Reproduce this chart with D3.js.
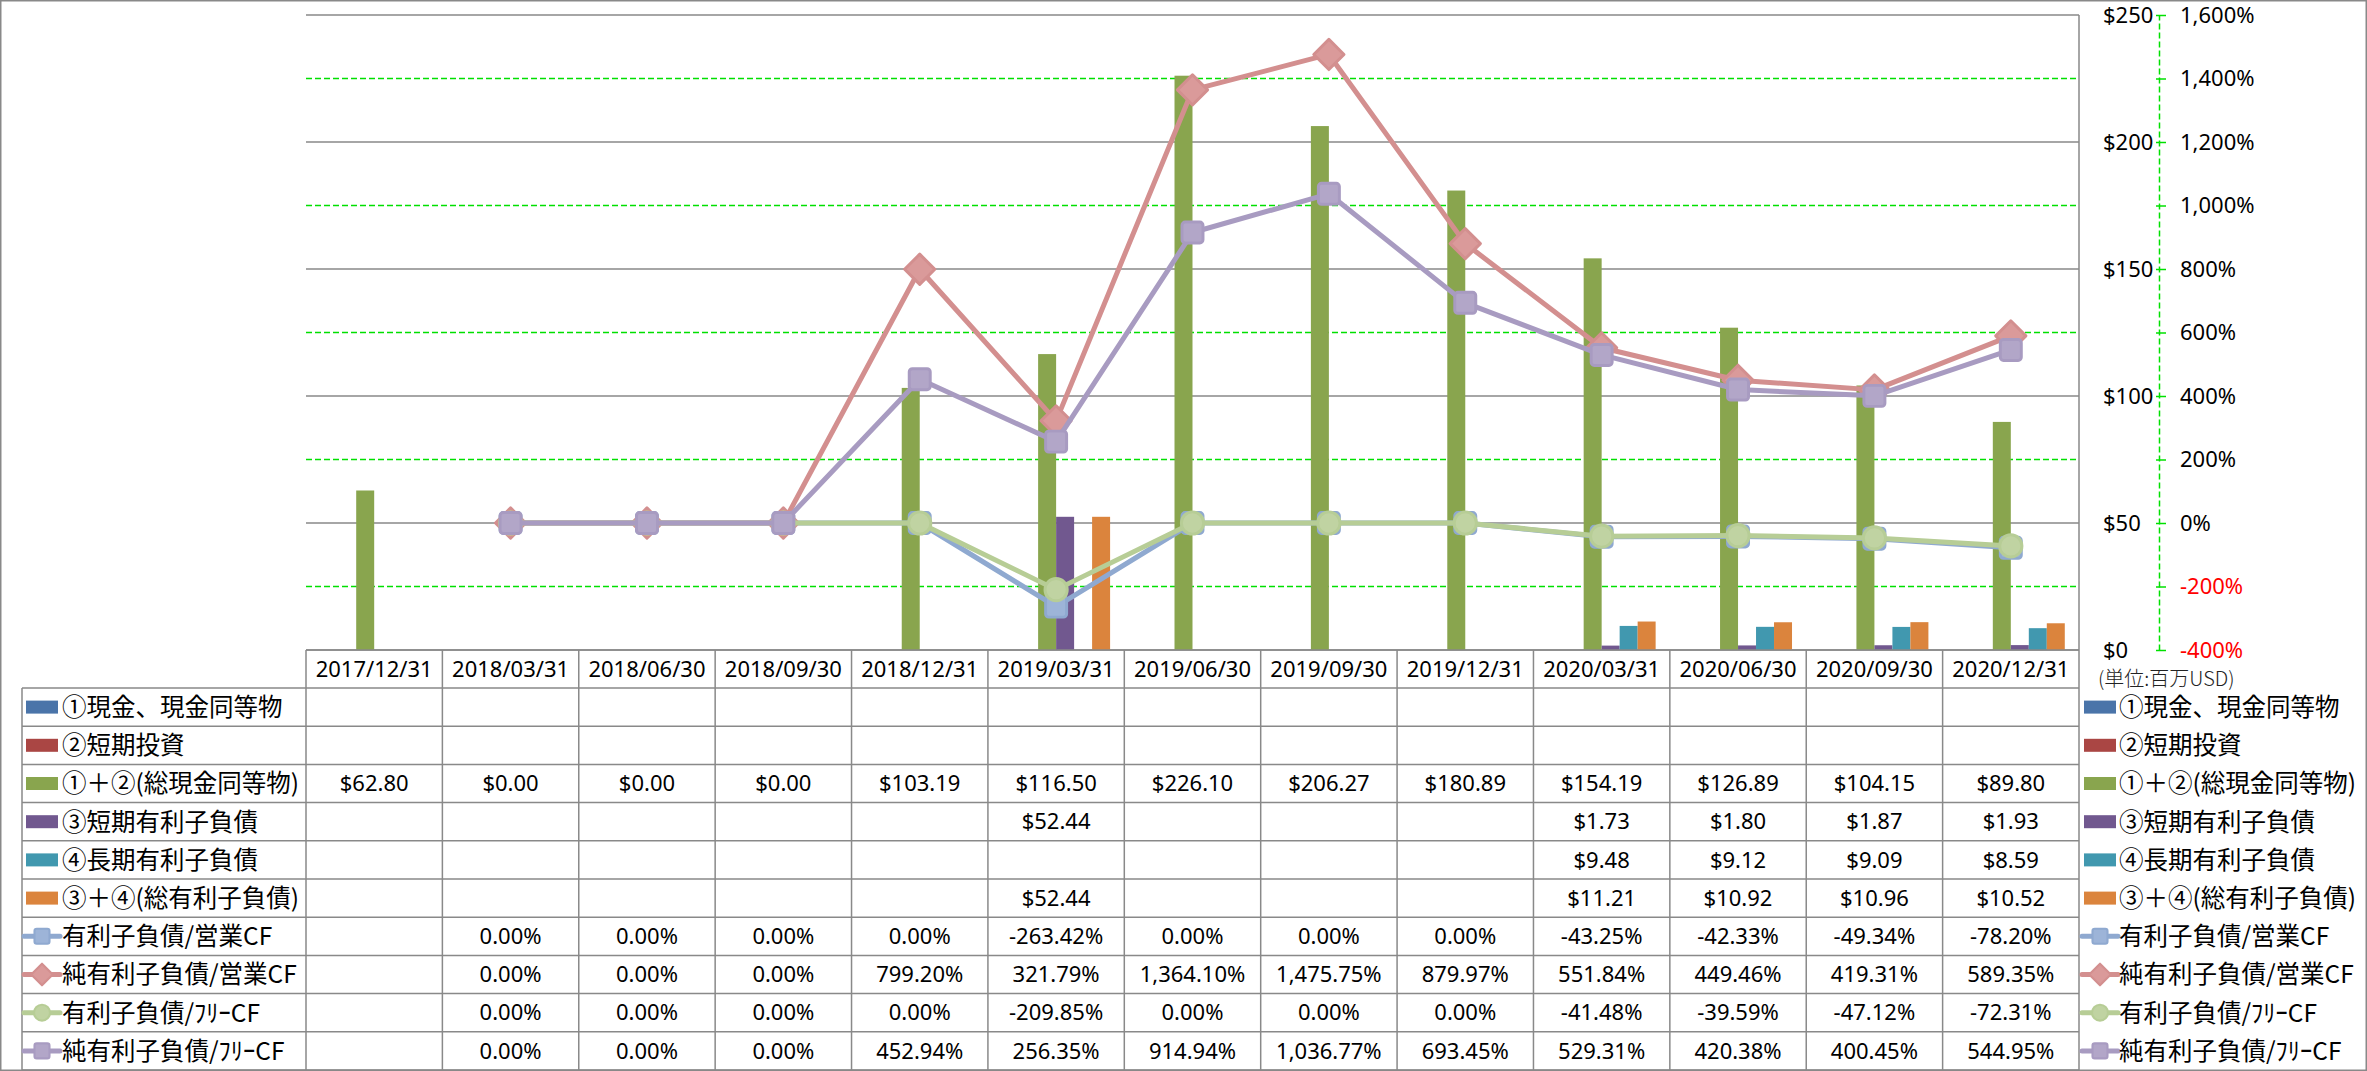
<!DOCTYPE html>
<html><head><meta charset="utf-8">
<script src="https://cdn.jsdelivr.net/npm/d3@7"></script>
<style>body{margin:0;background:#fff}svg{display:block}</style>
</head><body>
<svg id="c" width="2367" height="1071"></svg>
<script>
const categories = ["2017/12/31","2018/03/31","2018/06/30","2018/09/30","2018/12/31","2019/03/31","2019/06/30","2019/09/30","2019/12/31","2020/03/31","2020/06/30","2020/09/30","2020/12/31"];
const cashEq      = [null,null,null,null,null,null,null,null,null,null,null,null,null];
const shortInv    = [null,null,null,null,null,null,null,null,null,null,null,null,null];
const totalCash   = [62.80,0,0,0,103.19,116.50,226.10,206.27,180.89,154.19,126.89,104.15,89.80];
const shortDebt   = [null,null,null,null,null,52.44,null,null,null,1.73,1.80,1.87,1.93];
const longDebt    = [null,null,null,null,null,null,null,null,null,9.48,9.12,9.09,8.59];
const totalDebt   = [null,null,null,null,null,52.44,null,null,null,11.21,10.92,10.96,10.52];
const debtOpCF    = [null,0,0,0,0,-263.42,0,0,0,-43.25,-42.33,-49.34,-78.20];
const netDebtOpCF = [null,0,0,0,799.20,321.79,1364.10,1475.75,879.97,551.84,449.46,419.31,589.35];
const debtFCF     = [null,0,0,0,0,-209.85,0,0,0,-41.48,-39.59,-47.12,-72.31];
const netDebtFCF  = [null,0,0,0,452.94,256.35,914.94,1036.77,693.45,529.31,420.38,400.45,544.95];
const leftTicks = [0,50,100,150,200,250];
const rightTicks = [-400,-200,0,200,400,600,800,1000,1200,1400,1600];
const unitNote = "(単位:百万USD)";

const barSeries = [
  {name:"①現金、現金同等物", values:cashEq, color:"#4A74A9"},
  {name:"②短期投資", values:shortInv, color:"#AA4644"},
  {name:"①＋②(総現金同等物)", values:totalCash, color:"#89A54E"},
  {name:"③短期有利子負債", values:shortDebt, color:"#71588F"},
  {name:"④長期有利子負債", values:longDebt, color:"#4198AF"},
  {name:"③＋④(総有利子負債)", values:totalDebt, color:"#DB843D"}
];
const lineSeries = [
  {name:"有利子負債/営業CF", values:debtOpCF, color:"#8FA9D0", light:"#9DB4D8", marker:"square"},
  {name:"純有利子負債/営業CF", values:netDebtOpCF, color:"#D38F8F", light:"#DA9A9A", marker:"diamond"},
  {name:"有利子負債/ﾌﾘｰCF", values:debtFCF, color:"#B7CD96", light:"#C0D3A2", marker:"circle"},
  {name:"純有利子負債/ﾌﾘｰCF", values:netDebtFCF, color:"#A89BC1", light:"#B2A6C8", marker:"square"}
];

const svg = d3.select("#c");
const X0 = 306, X1 = 2079, Y0 = 650, Y1 = 15;
const GRAY = "#898989";
const fix = s => s.replace(/\u2212/g,"-");
const x = d3.scaleBand().domain(categories).range([X0, X1]).padding(0);
const xs = d3.scaleBand().domain(d3.range(barSeries.length)).range([0, x.bandwidth()]).paddingInner(0).paddingOuter(0.79);
const yL = d3.scaleLinear().domain([0,250]).range([Y0, Y1]);
const yR = d3.scaleLinear().domain([-400,1600]).range([Y0, Y1]);

// outer border
svg.append("rect").attr("x",0.75).attr("y",0.75).attr("width",2365.5).attr("height",1069.5)
  .attr("fill","none").attr("stroke",GRAY).attr("stroke-width",1.5);

// green dashed gridlines (secondary axis) where no primary gridline
const grayYs = leftTicks.map(d=>Math.round(yL(d)));
svg.append("g").selectAll("line").data(rightTicks.filter(d=>!grayYs.includes(Math.round(yR(d))))).join("line")
  .attr("x1",X0).attr("x2",X1).attr("y1",d=>yR(d)).attr("y2",d=>yR(d))
  .attr("stroke","#00E000").attr("stroke-width",1.5).attr("stroke-dasharray","6,3");
// gray gridlines (primary)
svg.append("g").selectAll("line").data(leftTicks).join("line")
  .attr("x1",X0).attr("x2",X1).attr("y1",d=>yL(d)).attr("y2",d=>yL(d))
  .attr("stroke",GRAY).attr("stroke-width",1.5);
// plot right edge
svg.append("line").attr("x1",X1).attr("x2",X1).attr("y1",Y1).attr("y2",1070)
  .attr("stroke",GRAY).attr("stroke-width",1.5);

// bars
barSeries.forEach((s,si)=>{
  svg.append("g").selectAll("rect").data(categories.map((c,i)=>({c,v:s.values[i]})).filter(d=>d.v!=null && d.v>0))
    .join("rect")
    .attr("x",d=>x(d.c)+xs(si)).attr("width",xs.bandwidth())
    .attr("y",d=>yL(d.v)).attr("height",d=>yL(0)-yL(d.v))
    .attr("fill",s.color);
});

function drawMarker(g, type, cx, cy, size, color, light){
  if(type==="square"){
    g.append("rect").attr("x",cx-size/2).attr("y",cy-size/2).attr("width",size).attr("height",size)
      .attr("rx",size*0.15).attr("fill",light).attr("stroke",color).attr("stroke-width",size*0.14);
  } else if(type==="diamond"){
    const h = size*0.72;
    g.append("path").attr("d",`M${cx},${cy-h}L${cx+h},${cy}L${cx},${cy+h}L${cx-h},${cy}Z`)
      .attr("fill",light).attr("stroke",color).attr("stroke-width",size*0.14).attr("stroke-linejoin","round");
  } else {
    g.append("circle").attr("cx",cx).attr("cy",cy).attr("r",size*0.53)
      .attr("fill",light).attr("stroke",color).attr("stroke-width",size*0.14);
  }
}

// lines
const cx = c => x(c) + x.bandwidth()/2;
lineSeries.forEach(s=>{
  const pts = categories.map((c,i)=>({c,v:s.values[i]}));
  const line = d3.line().defined(d=>d.v!=null).x(d=>cx(d.c)).y(d=>yR(d.v));
  const g = svg.append("g");
  g.append("path").attr("d",line(pts)).attr("fill","none").attr("stroke",s.color)
    .attr("stroke-width",5).attr("stroke-linejoin","round");
  pts.filter(d=>d.v!=null).forEach(d=>drawMarker(g,s.marker,cx(d.c),yR(d.v),21,s.color,s.light));
});

// primary axis labels (on right side)
const axL = svg.append("g").attr("transform",`translate(2103,0)`)
  .call(d3.axisRight(yL).tickValues(leftTicks).tickSize(0).tickPadding(0).tickFormat(d=>"$"+d));
axL.select(".domain").remove();
axL.selectAll("text").attr("font-family","Noto Sans").attr("font-size",22).attr("fill","#000").attr("text-anchor","start");

// secondary axis
const axR = svg.append("g").attr("transform",`translate(2159,0)`)
  .call(d3.axisRight(yR).tickValues(rightTicks).tickSize(7).tickSizeOuter(0).tickPadding(14)
    .tickFormat(d=>fix(d3.format(",")(d))+"%"));
axR.select(".domain").attr("stroke","#00E000").attr("stroke-width",1.5).attr("stroke-dasharray","6,3");
axR.selectAll(".tick line").attr("stroke","#00E000").attr("stroke-width",1.5).attr("x1",-3);
axR.selectAll("text").attr("font-family","Noto Sans").attr("font-size",22)
  .attr("fill",d=>d<0?"#FF0000":"#000");

// table
const TH = 688, RH = (1070-688)/10;
const tbl = svg.append("g");
tbl.append("line").attr("x1",X0).attr("x2",X1).attr("y1",Y0).attr("y2",Y0).attr("stroke",GRAY).attr("stroke-width",1.5);
tbl.selectAll("line.h").data(d3.range(11)).join("line").attr("class","h")
  .attr("x1",22).attr("x2",X1).attr("y1",i=>TH+i*RH).attr("y2",i=>TH+i*RH)
  .attr("stroke",GRAY).attr("stroke-width",1.5);
tbl.selectAll("line.v").data(categories).join("line").attr("class","v")
  .attr("x1",d=>x(d)).attr("x2",d=>x(d)).attr("y1",Y0).attr("y2",1070)
  .attr("stroke",GRAY).attr("stroke-width",1.5);
tbl.append("line").attr("x1",22).attr("x2",22).attr("y1",TH).attr("y2",1070).attr("stroke",GRAY).attr("stroke-width",1.5);

tbl.selectAll("text.hd").data(categories).join("text").attr("class","hd")
  .attr("x",d=>cx(d)).attr("y",(Y0+TH)/2).attr("dy","0.35em").attr("text-anchor","middle")
  .attr("font-family","Noto Sans").attr("font-size",22).text(d=>d);

const rows = [
  ...barSeries.map(s=>({...s, kind:"bar", fmt:v=>"$"+fix(d3.format(",.2f")(v))})),
  ...lineSeries.map(s=>({...s, kind:"line", fmt:v=>fix(d3.format(",.2f")(v))+"%"}))
];
rows.forEach((r,ri)=>{
  const yc = TH + (ri+0.5)*RH;
  categories.forEach((c,i)=>{
    const v = r.values[i];
    if(v==null) return;
    tbl.append("text").attr("x",cx(c)).attr("y",yc).attr("dy","0.35em").attr("text-anchor","middle")
      .attr("font-family","Noto Sans").attr("font-size",22).text(r.fmt(v));
  });
  [[26,62],[2084,2119]].forEach(([kx,tx])=>{
    if(r.kind==="bar"){
      tbl.append("rect").attr("x",kx).attr("y",yc-6.5).attr("width",32).attr("height",13).attr("fill",r.color);
    } else {
      const lg = tbl.append("g");
      lg.append("line").attr("x1",kx-2).attr("x2",kx+34).attr("y1",yc).attr("y2",yc)
        .attr("stroke",r.color).attr("stroke-width",5).attr("stroke-linecap","round");
      drawMarker(lg,r.marker,kx+16,yc,15,r.color,r.light);
    }
    tbl.append("text").attr("x",tx).attr("y",yc).attr("dy","0.36em")
      .attr("font-family","Noto Sans CJK JP").attr("font-size",24.5).text(r.name);
  });
});

svg.append("text").attr("x",2098).attr("y",679).attr("dy","0.35em")
  .attr("font-family","Noto Sans CJK JP").attr("font-size",20).attr("font-weight",300).attr("fill","#222").text(unitNote);
</script>
</body></html>
